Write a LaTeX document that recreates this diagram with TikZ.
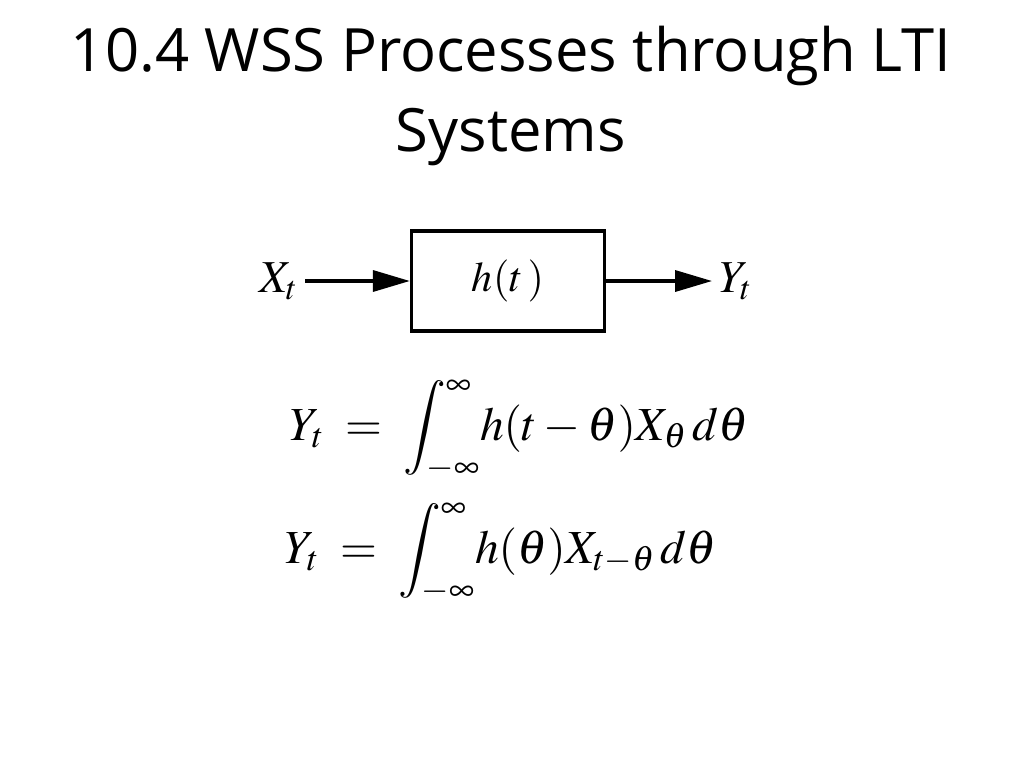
\documentclass[tikz,border=0pt]{standalone}
\usepackage{mathptmx}
\usepackage{fontspec}
\setmainfont{Open Sans}
\usetikzlibrary{arrows.meta,positioning}
\begin{document}
\begin{tikzpicture}[x=0.02cm, y=-0.02cm,
  sysbox/.style={draw, line width=1.8pt, minimum width=110pt, minimum height=57pt, font=\fontsize{24}{28}\selectfont},
  sig/.style={line width=1.8pt, -{Triangle[length=21pt,width=12pt]}},
  lbl/.style={inner sep=4pt, font=\fontsize{26}{30}\selectfont},
  eqn/.style={anchor=base west, inner sep=0pt, font=\fontsize{27}{32}\selectfont}]
  \useasboundingbox (0,0) rectangle (1023,767);
  \node[align=center, font=\fontsize{34}{45}\selectfont] (title) at (511,96)
    {10.4 WSS Processes through LTI\\Systems};
  \node[sysbox] (sys) at (508,281) {$h(t\,)$};
  \node[lbl, anchor=east] (xin) at (305,281) {$X_t$};
  \node[lbl, anchor=west] (yout) at (712,281) {$Y_t$};
  \draw[sig] (xin) -- (sys);
  \draw[sig] (sys.east) -- (yout.west);
  \node[eqn] (eqa) at (290,440)
    {$\displaystyle Y_t \;=\; \int_{-\infty}^{\infty}\! h(t-\theta)X_\theta\,d\theta$};
  \node[eqn] (eqb) at (285,563)
    {$\displaystyle Y_t \;=\; \int_{-\infty}^{\infty}\! h(\theta)X_{t-\theta}\,d\theta$};
\end{tikzpicture}
\end{document}
